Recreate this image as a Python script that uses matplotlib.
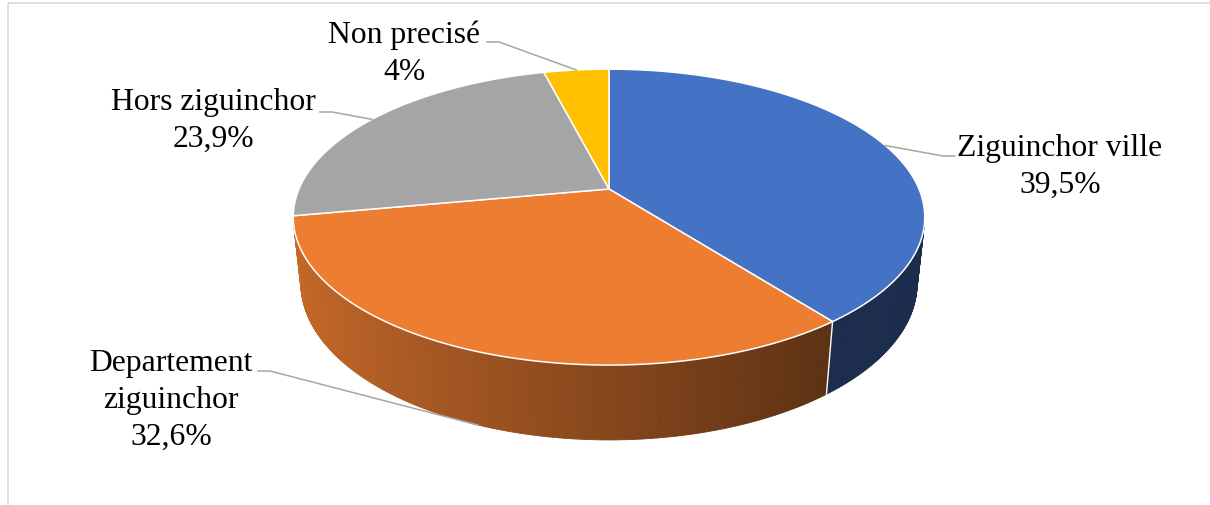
import numpy as np
import matplotlib.pyplot as plt
from matplotlib.patches import Polygon, Rectangle
from matplotlib.collections import PolyCollection

# Origine des enquêtés (%)
categories = ["Ziguinchor ville", "Departement\nziguinchor", "Hors ziguinchor", "Non precisé"]
shares = [39.5, 32.6, 23.9, 4.0]
slice_colors = ["#4472c4", "#ed7d31", "#a5a5a5", "#ffc000"]

# label placement in pixels: centre x, baseline of the last line; leader lines start at label side
label_pos = [(1060, 193), (171, 445), (213, 147), (404, 80)]
leader_start = [(955, 157), (258, 372), (320, 113), (487, 43)]

# perspective of the tilted disk
CX, CY = 609, 190
SCALE = 310
K = 0.19          # perspective strength
S = 0.46          # sin of elevation
C = np.sqrt(1 - S ** 2)
DIST = C / K
H = 0.242         # thickness of the disk


def project(theta, z=0.0):
    x, y = np.cos(theta), np.sin(theta)
    den = 1 + K * y - z * S / DIST
    return CX + SCALE * x / den, CY - SCALE * (y * S + z * C) / den


def shade(theta):
    return np.clip(0.39 + 0.283 * (0.61 - np.cos(theta)), 0.39, 1.0)


fig = plt.figure(figsize=(12.1, 5.06), dpi=100)
ax = fig.add_axes([0, 0, 1, 1])
ax.set_xlim(0, 1210)
ax.set_ylim(506, 0)
ax.axis("off")

ax.add_patch(Rectangle((8, 4), 1300, 600, fill=False, edgecolor="#d9d9d9", lw=1.2))

total = sum(shares)
bounds = 90 - np.concatenate([[0], np.cumsum(shares)]) / total * 360
bounds = np.radians(bounds)

# visible part of the outer wall
lim = np.arcsin(K / C ** 2)
vis_lo, vis_hi = np.pi + lim, 2 * np.pi - lim

# side walls
for i, col in enumerate(slice_colors):
    a0, a1 = bounds[i + 1], bounds[i]
    for shift in (0, 2 * np.pi, 4 * np.pi):
        lo = max(a0 + shift, vis_lo)
        hi = min(a1 + shift, vis_hi)
        if hi <= lo:
            continue
        n = int(np.degrees(hi - lo) * 2) + 2
        t = np.linspace(lo, hi, n)
        quads, cols = [], []
        base = np.array(plt.matplotlib.colors.to_rgb(col))
        for j in range(n - 1):
            p = [project(t[j]), project(t[j + 1]), project(t[j + 1], -H), project(t[j], -H)]
            quads.append(p)
            cols.append(base * shade((t[j] + t[j + 1]) / 2))
        ax.add_collection(PolyCollection(quads, facecolors=cols, edgecolors=cols, linewidths=0.6))

# white seams between walls
for b in bounds:
    bb = b % (2 * np.pi)
    if vis_lo < bb < vis_hi:
        x0, y0 = project(bb)
        x1, y1 = project(bb, -H)
        ax.plot([x0, x1], [y0, y1], color="white", lw=1.0)

# top faces
for i, col in enumerate(slice_colors):
    t = np.linspace(bounds[i], bounds[i + 1], 200)
    xs, ys = project(t)
    pts = np.column_stack([np.r_[CX, xs], np.r_[CY, ys]])
    ax.add_patch(Polygon(pts, closed=True, facecolor=col, edgecolor="white", lw=1.1))

# labels and leader lines
for i, name in enumerate(categories):
    txt = f"{name}\n{shares[i]:g}".replace(".", ",") + "%"
    ax.text(label_pos[i][0], label_pos[i][1], txt, ha="center", va="baseline",
            multialignment="center", family="Liberation Serif", fontsize=22.8,
            linespacing=1.37, color="black")
    mid = (bounds[i] + bounds[i + 1]) / 2
    z = -H if np.sin(mid) < -np.sin(lim) else 0.0
    ex, ey = project(mid, z)
    sx, sy = leader_start[i]
    kx = sx + (12 if ex > sx else -12)
    ax.plot([sx, kx, ex], [sy, sy, ey], color="#a6a6a6", lw=1.1)

fig.savefig("out.png", dpi=100)
